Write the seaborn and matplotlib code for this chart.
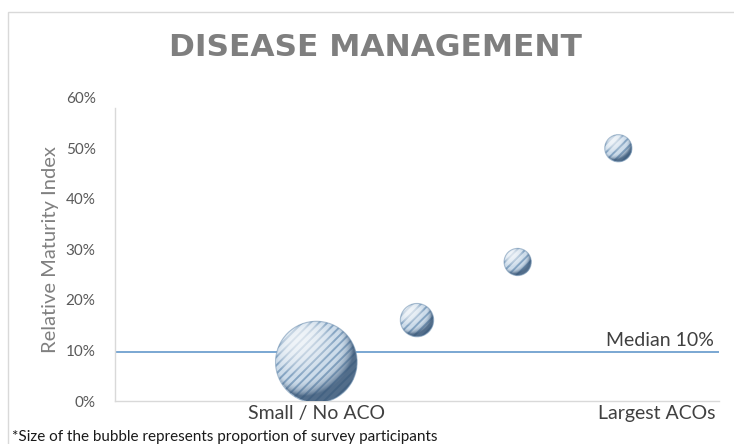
import matplotlib
matplotlib.use("Agg")
import matplotlib.pyplot as plt
from matplotlib.patches import Rectangle, Ellipse
from matplotlib.ticker import PercentFormatter
import numpy as np
import pandas as pd
import seaborn as sns

# ACO tiers, from small / no ACO up to the largest ACOs
tier = [1, 2, 3, 4]
tier_labels = ["Small / No ACO", "Largest ACOs"]
# relative maturity index per tier
maturity = [0.077, 0.16, 0.275, 0.50]
# share of survey participants per tier (%), drives bubble area
share = [72, 12, 8, 8]
# median maturity across all participants
median = 0.096

title = "DISEASE MANAGEMENT"
y_label = "Relative Maturity Index"
footnote = "*Size of the bubble represents proportion of survey participants"

df = pd.DataFrame({"tier": tier, "maturity": maturity, "share": share})

sns.set_theme(style="white")
plt.rcParams["font.family"] = ["Lato", "DejaVu Sans"]
plt.rcParams["hatch.color"] = "#86a5c3"
plt.rcParams["hatch.linewidth"] = 1.4

W, H = 734, 444
DPI = 100
fig = plt.figure(figsize=(W / DPI, H / DPI), dpi=DPI)
fig.patch.set_facecolor("white")

# plot area in pixel terms
left, right, bottom, top = 115, 719, 401, 97.7
ax = fig.add_axes([left / W, 1 - bottom / H, (right - left) / W, (bottom - top) / H])
ax.set_xlim(-1, 5)
ax.set_ylim(0, 0.6)

SMAX = 3452.0  # marker area (pt^2) of the largest share
sizes = (0, SMAX)
size_norm = (0, max(share))

# base bubbles
sns.scatterplot(data=df, x="tier", y="maturity", size="share", sizes=sizes,
                size_norm=size_norm, color="#cddcea", edgecolor="none",
                linewidth=0, legend=False, ax=ax, zorder=3)
# diagonal striping
sns.scatterplot(data=df, x="tier", y="maturity", size="share", sizes=sizes,
                size_norm=size_norm, facecolor="none", edgecolor="#86a5c3",
                linewidth=0, hatch="////", legend=False, ax=ax, zorder=4)

# spherical shading laid over each bubble, clipped to its outline
n = 160
g = np.linspace(-1, 1, n)
gx, gy = np.meshgrid(g, -g)
rr = np.sqrt(gx ** 2 + gy ** 2)
inside = rr <= 1
nz = np.sqrt(np.clip(1 - rr ** 2, 0, 1))
light = np.array([-0.45, 0.55, 0.70])
light = light / np.linalg.norm(light)
diffuse = np.clip(gx * light[0] + gy * light[1] + nz * light[2], 0, 1)
bright = np.clip((diffuse - 0.6) / 0.4, 0, 1)
dark = np.clip((0.5 - diffuse) / 0.5, 0, 1)
dark_rgb = np.array([0.20, 0.32, 0.45])
shade = np.zeros((n, n, 4))
shade[..., :3] = np.where((bright > 0)[..., None], 1.0, dark_rgb)
shade[..., 3] = np.where(bright > 0, bright * 0.7, dark ** 1.6 * 0.8)
shade[..., 3] *= inside

bbox = ax.get_window_extent()
ux = (5 - (-1)) / bbox.width   # data units per pixel, x
uy = (0.6 - 0.0) / bbox.height  # data units per pixel, y
areas = np.array(share) / max(share) * SMAX
for xi, yi, s in zip(df["tier"], df["maturity"], areas):
    r_px = np.sqrt(s) / 2.0 / 72.0 * DPI
    wx, hy = r_px * ux, r_px * uy
    clip = Ellipse((xi, yi), 2 * wx, 2 * hy, transform=ax.transData,
                   facecolor="none", edgecolor="none")
    ax.add_patch(clip)
    im = ax.imshow(shade, extent=(xi - wx, xi + wx, yi - hy, yi + hy),
                   interpolation="bilinear", zorder=5, aspect="auto")
    im.set_clip_path(clip)
    ax.add_patch(Ellipse((xi, yi), 2 * wx, 2 * hy, facecolor="none",
                         edgecolor="#7d9bb8", lw=0.8, alpha=0.6, zorder=6))

# median reference line
ax.axhline(median, color="#6fa0cf", lw=1.3, zorder=2)
ax.text(4.95, median + 0.007, f"Median {median:.0%}", ha="right", va="bottom",
        fontsize=14, color="#404040")

ax.set_xlim(-1, 5)
ax.set_ylim(0, 0.6)
ax.set_yticks(np.arange(0, 0.61, 0.1))
ax.yaxis.set_major_formatter(PercentFormatter(1.0, decimals=0))
ax.tick_params(axis="y", labelsize=11, labelcolor="#595959", length=0, pad=14)
ax.set_xticks([1, 4.97])
ax.set_xticklabels(tier_labels)
ax.get_xticklabels()[1].set_horizontalalignment("right")
ax.tick_params(axis="x", labelsize=14, labelcolor="#404040", length=0, pad=3)
ax.set_xlabel("")
ax.set_ylabel(y_label, fontsize=14.5, color="#808080", labelpad=5)

for side in ("top", "right"):
    ax.spines[side].set_visible(False)
for side in ("left", "bottom"):
    ax.spines[side].set_color("#d9d9d9")
    ax.spines[side].set_linewidth(1.0)
ax.spines["left"].set_bounds(0, 0.58)
ax.grid(False)

fig.text(0.5 + 8 / W, 1 - 48 / H, title, ha="center", va="center", fontsize=22.5,
         fontweight="bold", color="#7f7f7f", family=["DejaVu Sans"])
fig.text(12 / W, 1 - 437 / H, footnote, ha="left", va="center", fontsize=11,
         color="#1a1a1a")

# chart frame
fig.add_artist(Rectangle((7.5 / W, -0.05), 1.2, 1 - 12.5 / H + 0.05,
                         transform=fig.transFigure, fill=False,
                         edgecolor="#d9d9d9", lw=1.0))

fig.savefig("out.png", dpi=DPI)
